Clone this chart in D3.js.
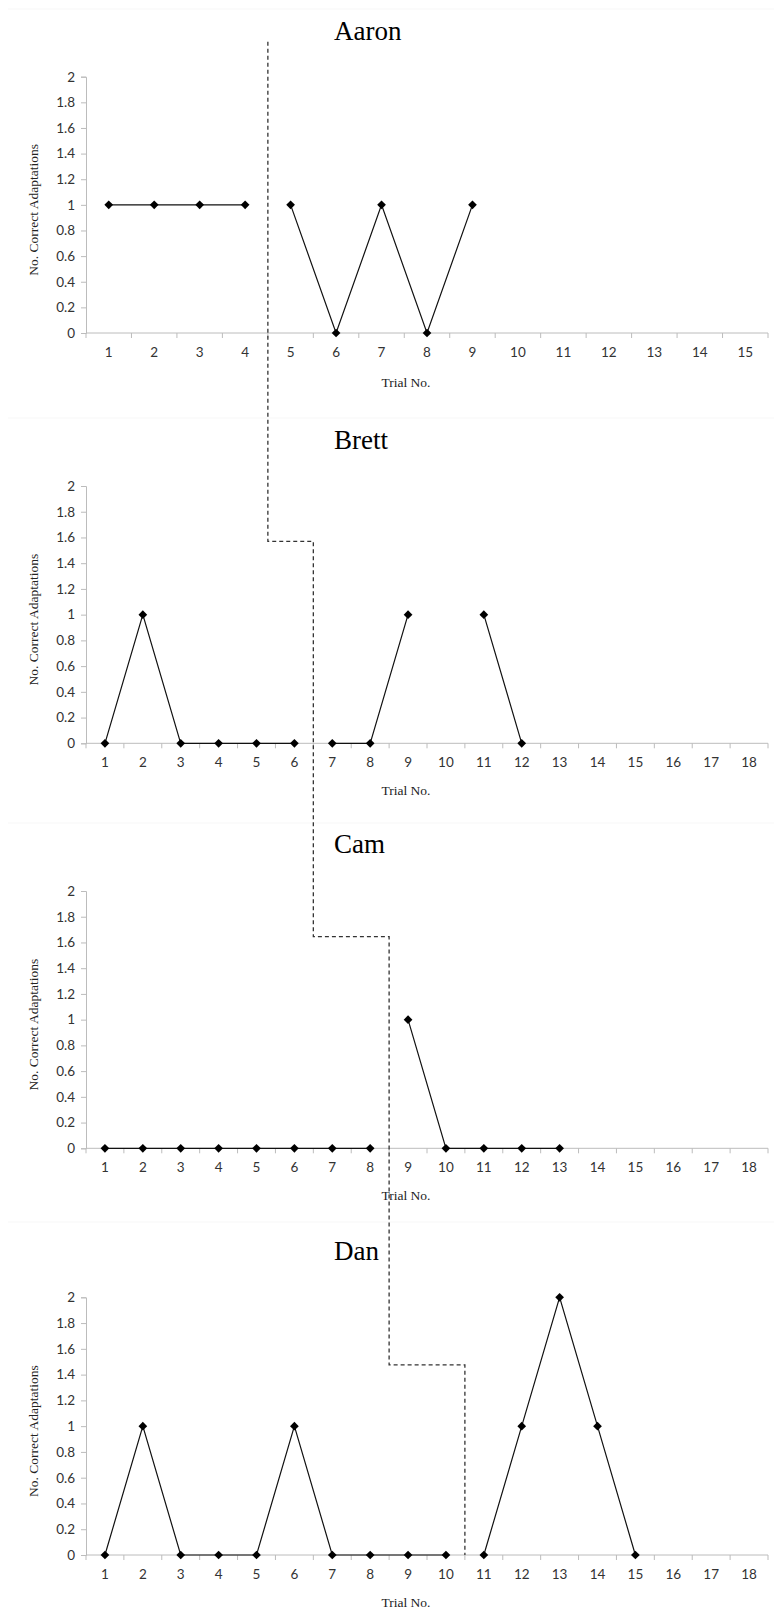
<!DOCTYPE html>
<html>
<head>
<meta charset="utf-8">
<script src="https://cdn.jsdelivr.net/npm/d3@7"></script>
<style>
  body { margin: 0; background: #fff; }
  .tick text { font-family: Lato, "Open Sans", sans-serif; font-size: 13.5px; fill: #333; }
  .axis path, .axis line { stroke: #bcbcbc; }
</style>
</head>
<body>
<div id="chart"></div>
<script>
// subjects, in order
const subjects = ['Aaron', 'Brett', 'Cam', 'Dan'];
// number of trial slots on each x axis
const trialCounts = [15, 18, 18, 18];
// baseline phase (before the dashed line)
const baselineValues = [
    [1, 1, 1, 1],
    [0, 1, 0, 0, 0, 0],
    [0, 0, 0, 0, 0, 0, 0, 0],
    [0, 1, 0, 0, 0, 1, 0, 0, 0, 0]
];
// intervention phase (after the dashed line), null = no trial
const treatmentValues = [
    [1, 0, 1, 0, 1],
    [0, 0, 1, null, 1, 0],
    [1, 0, 0, 0, 0],
    [0, 1, 2, 1, 0]
];
// height of the dashed step where it crosses into each panel
const stepLevels = [null, 1.57, 1.645, 1.475];
const yTicks = [0, 0.2, 0.4, 0.6, 0.8, 1, 1.2, 1.4, 1.6, 1.8, 2];

const width = 774, height = 1616;
const left = 86, right = 768;
// panel placement: plot top, plot bottom, title baseline, x-title baseline, separator
const panels = [
    { top: 76.7, bottom: 333, title: 40, xTitle: 387, sep: 9 },
    { top: 486, bottom: 743.3, title: 449, xTitle: 795, sep: 418 },
    { top: 891, bottom: 1148.3, title: 853, xTitle: 1200, sep: 823 },
    { top: 1297.3, bottom: 1555, title: 1260, xTitle: 1607, sep: 1222 }
];

const svg = d3.select('#chart').append('svg')
    .attr('width', width)
    .attr('height', height);

// square turned 45deg gives the Excel-style diamond
const diamond = d3.symbol().type(d3.symbolSquare).size(38);
const stepPts = [];

subjects.forEach((name, i) => {
    const p = panels[i];
    const trials = d3.range(1, trialCounts[i] + 1);

    const x = d3.scaleBand().domain(trials).range([left, right]).padding(0);
    const y = d3.scaleLinear().domain([0, 2]).range([p.bottom, p.top]);

    // faint strip edge between stacked charts
    svg.append('line')
        .attr('x1', 8).attr('x2', width)
        .attr('y1', p.sep).attr('y2', p.sep)
        .attr('stroke', '#f7f7f7');

    // y axis
    svg.append('g')
        .attr('class', 'axis')
        .attr('transform', `translate(${left},0)`)
        .call(d3.axisLeft(y).tickValues(yTicks).tickSize(5).tickPadding(6).tickFormat(d3.format('~g')));

    // x axis, ticks between categories like Excel
    const xa = svg.append('g')
        .attr('class', 'axis')
        .attr('transform', `translate(0,${p.bottom})`)
        .call(d3.axisBottom(x).tickSize(0).tickPadding(14));
    xa.selectAll('.edge')
        .data(d3.range(0, trialCounts[i] + 1))
        .enter().append('line')
        .attr('class', 'edge')
        .attr('x1', d => left + d * x.bandwidth())
        .attr('x2', d => left + d * x.bandwidth())
        .attr('y1', 0).attr('y2', 5)
        .attr('stroke', '#bcbcbc');
    xa.select('.domain').attr('d', `M${left},0H${right}`);

    // titles
    svg.append('text')
        .attr('x', 334).attr('y', p.title)
        .attr('font-family', '"Liberation Serif", "Times New Roman", serif')
        .attr('font-size', 27)
        .text(name);

    svg.append('text')
        .attr('x', 406).attr('y', p.xTitle)
        .attr('text-anchor', 'middle')
        .attr('font-family', '"Liberation Serif", "Times New Roman", serif')
        .attr('font-size', 13.5)
        .attr('fill', '#222')
        .text('Trial No.');

    svg.append('text')
        .attr('transform', `translate(38,${(p.top + p.bottom) / 2 + 5}) rotate(-90)`)
        .attr('text-anchor', 'middle')
        .attr('font-family', '"Liberation Serif", "Times New Roman", serif')
        .attr('font-size', 13.5)
        .attr('fill', '#222')
        .text('No. Correct Adaptations');

    // two phases drawn as separate lines
    const nA = baselineValues[i].length;
    const phases = [
        baselineValues[i].map((v, k) => ({ t: k + 1, v })),
        treatmentValues[i].map((v, k) => ({ t: nA + k + 1, v }))
    ];
    const line = d3.line()
        .defined(d => d.v != null)
        .x(d => x(d.t) + x.bandwidth() / 2)
        .y(d => y(d.v));

    phases.forEach(ph => {
        svg.append('path')
            .datum(ph)
            .attr('fill', 'none')
            .attr('stroke', '#111')
            .attr('stroke-width', 1.2)
            .attr('d', line);
        svg.selectAll(null)
            .data(ph.filter(d => d.v != null))
            .enter().append('path')
            .attr('d', diamond)
            .attr('fill', '#000')
            .attr('transform', d => `translate(${x(d.t) + x.bandwidth() / 2},${y(d.v)}) rotate(45)`);
    });

    // phase-change step
    const bx = left + nA * x.bandwidth();
    if (i === 0) {
        stepPts.push([bx, 41.7]);
    } else {
        const ly = y(stepLevels[i]);
        stepPts.push([stepPts[stepPts.length - 1][0], ly]);
        stepPts.push([bx, ly]);
    }
    if (i === subjects.length - 1) stepPts.push([bx, y(0)]);
});

svg.append('path')
    .attr('d', d3.line()(stepPts))
    .attr('fill', 'none')
    .attr('stroke', '#333')
    .attr('stroke-width', 1.3)
    .attr('stroke-dasharray', '4,3');
</script>
</body>
</html>
